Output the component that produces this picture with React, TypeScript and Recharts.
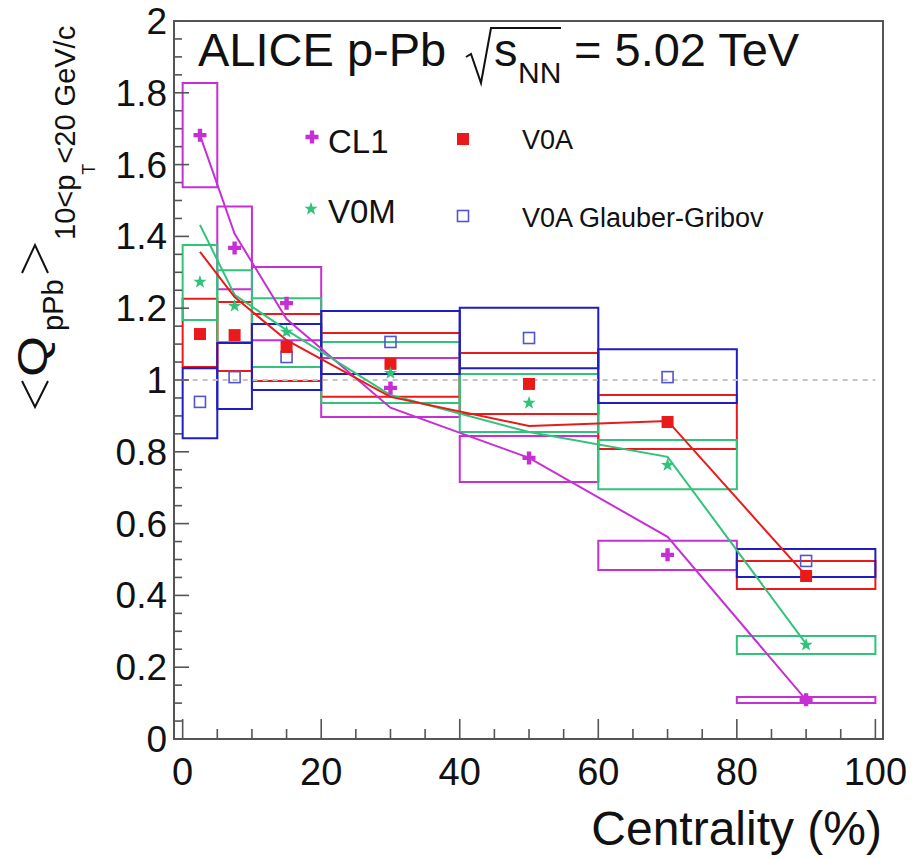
import React from 'react';
import {
  ComposedChart,
  XAxis,
  YAxis,
  Line,
  Scatter,
  ReferenceArea,
  ReferenceLine,
} from 'recharts';

// ---------- data ----------
const binCenters = [2.5, 7.5, 15, 30, 50, 70, 90];
const binLow = [0, 5, 10, 20, 40, 60, 80];
const binHigh = [5, 10, 20, 40, 60, 80, 100];

const cl1Values = [1.682, 1.368, 1.214, 0.978, 0.783, 0.513, 0.109];
const cl1SysLow = [1.537, 1.253, 1.111, 0.897, 0.716, 0.471, 0.1];
const cl1SysHigh = [1.827, 1.483, 1.315, 1.061, 0.844, 0.552, 0.117];
const cl1Model = [1.682, 1.407, 1.17, 0.923, 0.783, 0.563, 0.109];

const v0mValues = [1.273, 1.206, 1.134, 1.019, 0.936, 0.763, 0.262];
const v0mSysLow = [1.167, 1.106, 1.036, 0.936, 0.855, 0.696, 0.237];
const v0mSysHigh = [1.376, 1.306, 1.228, 1.106, 1.017, 0.833, 0.287];
const v0mModel = [1.432, 1.237, 1.139, 0.958, 0.855, 0.786, 0.265];

const v0aValues = [1.128, 1.125, 1.092, 1.045, 0.989, 0.883, 0.454];
const v0aSysLow = [1.036, 1.025, 0.997, 0.953, 0.905, 0.808, 0.418];
const v0aSysHigh = [1.226, 1.217, 1.184, 1.131, 1.075, 0.958, 0.496];
const v0aModel = [1.357, 1.231, 1.111, 0.953, 0.872, 0.886, 0.455];

const ggValues = [0.939, 1.008, 1.064, 1.106, 1.117, 1.008, 0.496];
const ggSysLow = [0.838, 0.919, 0.972, 1.017, 1.033, 0.936, 0.451];
const ggSysHigh = [1.033, 1.103, 1.156, 1.192, 1.201, 1.086, 0.529];

const xMajorTicks = [0, 20, 40, 60, 80, 100];
const xMinorTicks = [5, 10, 15, 25, 30, 35, 45, 50, 55, 65, 70, 75, 85, 90, 95];
const xTickLabels = ['0', '20', '40', '60', '80', '100'];

const yMajorTicks = [0, 0.2, 0.4, 0.6, 0.8, 1, 1.2, 1.4, 1.6, 1.8, 2];
const yTickLabels = ['0', '0.2', '0.4', '0.6', '0.8', '1', '1.2', '1.4', '1.6', '1.8', '2'];
const yMinorStep = 0.05;

const seriesNames = ['CL1', 'V0M', 'V0A', 'V0A Glauber-Gribov'];

// ---------- styles ----------
const FONT = '"Liberation Sans", Arial, Helvetica, sans-serif';
const AXIS_COL = '#555555';
const COL_CL1 = '#c62fd4';
const COL_V0M = '#2fc47a';
const COL_V0A = '#ea1a1a';
const COL_GG_BOX = '#1e1ec2';
const COL_GG_MARK = '#5454cc';

const X_DOMAIN: [number, number] = [-1.25, 101.1];
const Y_DOMAIN: [number, number] = [0, 2];

const toPoints = (vals: number[]) => binCenters.map((x, i) => ({ x, y: vals[i] }));

const allXTicks = [...xMajorTicks, ...xMinorTicks].sort((a, b) => a - b);
const allYTicks: number[] = [];
yMajorTicks.forEach((v, i) => {
  allYTicks.push(v);
  if (i < yMajorTicks.length - 1) {
    [1, 2, 3].forEach((k) => allYTicks.push(Math.round((v + k * yMinorStep) * 1000) / 1000));
  }
});

// ---------- markers ----------
const crossPath = (cx: number, cy: number, s: number, t: number) =>
  `M${cx - t},${cy - s}L${cx + t},${cy - s}L${cx + t},${cy - t}L${cx + s},${cy - t}L${cx + s},${cy + t}L${cx + t},${cy + t}L${cx + t},${cy + s}L${cx - t},${cy + s}L${cx - t},${cy + t}L${cx - s},${cy + t}L${cx - s},${cy - t}L${cx - t},${cy - t}Z`;

const starPath = (cx: number, cy: number, ro: number, ri: number) => {
  let d = '';
  for (let k = 0; k < 10; k++) {
    const r = k % 2 === 0 ? ro : ri;
    const a = -Math.PI / 2 + (k * Math.PI) / 5;
    d += (k === 0 ? 'M' : 'L') + (cx + r * Math.cos(a)).toFixed(2) + ',' + (cy + r * Math.sin(a)).toFixed(2);
  }
  return d + 'Z';
};

const CrossMarker = ({ cx, cy }: any) => <path d={crossPath(cx, cy, 6.5, 2.2)} fill={COL_CL1} />;
const StarMarker = ({ cx, cy }: any) => <path d={starPath(cx, cy, 7, 2.8)} fill={COL_V0M} />;
const FilledSquare = ({ cx, cy }: any) => (
  <rect x={cx - 6} y={cy - 6} width={12} height={12} fill={COL_V0A} />
);
const OpenSquare = ({ cx, cy }: any) => (
  <rect x={cx - 5.5} y={cy - 5.5} width={11} height={11} fill="none" stroke={COL_GG_MARK} strokeWidth={1.6} />
);

// ---------- ticks ----------
const XTick = (props: any) => {
  const { x, y, payload } = props;
  const v = payload.value;
  const idx = xMajorTicks.indexOf(v);
  const major = idx >= 0;
  return (
    <g>
      <line x1={x} x2={x} y1={y} y2={y - (major ? 20 : 10)} stroke={AXIS_COL} strokeWidth={1.6} />
      {major && (
        <text x={x} y={y + 46} textAnchor="middle" fontSize={38} fontFamily={FONT} fill="#111">
          {xTickLabels[idx]}
        </text>
      )}
    </g>
  );
};

const YTick = (props: any) => {
  const { x, y, payload } = props;
  const v = payload.value;
  const idx = yMajorTicks.findIndex((m) => Math.abs(m - v) < 1e-6);
  const major = idx >= 0;
  return (
    <g>
      <line x1={x} x2={x + (major ? 15 : 8)} y1={y} y2={y} stroke={AXIS_COL} strokeWidth={1.6} />
      {major && (
        <text x={x - 7} y={y + 13} textAnchor="end" fontSize={37} fontFamily={FONT} fill="#111">
          {yTickLabels[idx]}
        </text>
      )}
    </g>
  );
};

// ---------- overlay texts ----------
const Overlay = () => (
  <svg
    width={921}
    height={858}
    style={{ position: 'absolute', left: 0, top: 0, pointerEvents: 'none' }}
    fontFamily={FONT}
  >
    {/* title */}
    <text x={198} y={66} fontSize={47} fill="#111">ALICE p-Pb</text>
    <path d="M466,57 L471,54 L481,83 L491,28 L561,28" fill="none" stroke="#111" strokeWidth={2} />
    <text x={494} y={66} fontSize={47} fill="#111">s</text>
    <text x={518} y={83} fontSize={30} fill="#111">NN</text>
    <text x={574} y={66} fontSize={47} fill="#111">= 5.02 TeV</text>

    {/* legend */}
    <path d={crossPath(312, 137, 6.5, 2.2)} fill={COL_CL1} />
    <text x={328} y={153} fontSize={33} fill="#111">{seriesNames[0]}</text>
    <path d={starPath(311, 209, 7, 2.8)} fill={COL_V0M} />
    <text x={328} y={223} fontSize={33} fill="#111">{seriesNames[1]}</text>
    <rect x={457} y={133} width={12} height={12} fill={COL_V0A} />
    <text x={522} y={149} fontSize={27} fill="#111">{seriesNames[2]}</text>
    <rect x={457.5} y={210.5} width={11} height={11} fill="none" stroke={COL_GG_MARK} strokeWidth={1.6} />
    <text x={522} y={227} fontSize={27} fill="#111">{seriesNames[3]}</text>

    {/* y axis label (rotated) */}
    <path d="M22,381 L35,407 L48,381" fill="none" stroke="#111" strokeWidth={2} />
    <text x={-377} y={47} transform="rotate(-90)" fontSize={42} textLength={41} lengthAdjust="spacingAndGlyphs" fill="#111">Q</text>
    <text x={-331} y={63} transform="rotate(-90)" fontSize={29} fill="#111">pPb</text>
    <path d="M22,273 L35,245 L48,273" fill="none" stroke="#111" strokeWidth={2} />
    <text x={-240} y={75} transform="rotate(-90)" fontSize={29} fill="#111">
      10&lt;p
      <tspan fontSize={18} dy={20}>T</tspan>
      <tspan dy={-20}>&lt;20 GeV/c</tspan>
    </text>

    {/* x axis label */}
    <text x={882} y={845} textAnchor="end" fontSize={48} fill="#111">Centrality (%)</text>
  </svg>
);

// ---------- chart ----------
const boxSeries = [
  { low: cl1SysLow, high: cl1SysHigh, color: COL_CL1 },
  { low: v0aSysLow, high: v0aSysHigh, color: COL_V0A },
  { low: v0mSysLow, high: v0mSysHigh, color: COL_V0M },
  { low: ggSysLow, high: ggSysHigh, color: COL_GG_BOX },
];

export default function App() {
  return (
    <div style={{ position: 'absolute', left: 0, top: 0, width: 921, height: 858, background: '#fff' }}>
      <ComposedChart width={921} height={858} margin={{ top: 21, right: 38, bottom: 118, left: 173 }}>
        <XAxis
          type="number"
          dataKey="x"
          domain={X_DOMAIN}
          allowDataOverflow
          ticks={allXTicks}
          interval={0}
          tick={<XTick />}
          tickLine={false}
          axisLine={false}
          tickSize={0}
          tickMargin={0}
          height={1}
        />
        <YAxis
          type="number"
          dataKey="y"
          domain={Y_DOMAIN}
          allowDataOverflow
          ticks={allYTicks}
          interval={0}
          tick={<YTick />}
          tickLine={false}
          axisLine={false}
          tickSize={0}
          tickMargin={0}
          width={1}
        />

        <ReferenceLine
          segment={[{ x: 0, y: 1 }, { x: 100, y: 1 }]}
          stroke="#c4c4c4"
          strokeWidth={2}
          strokeDasharray="5 5"
        />

        {boxSeries.map((s, si) =>
          binLow.map((lo, i) => (
            <ReferenceArea
              key={`box-${si}-${i}`}
              x1={lo}
              x2={binHigh[i]}
              y1={s.low[i]}
              y2={s.high[i]}
              fill="none"
              fillOpacity={0}
              stroke={s.color}
              strokeWidth={2}
              strokeOpacity={1}
              ifOverflow="visible"
            />
          ))
        )}

        <Line data={toPoints(cl1Model)} dataKey="y" type="linear" stroke={COL_CL1} strokeWidth={2} dot={false} activeDot={false} isAnimationActive={false} />
        <Line data={toPoints(v0mModel)} dataKey="y" type="linear" stroke={COL_V0M} strokeWidth={2} dot={false} activeDot={false} isAnimationActive={false} />
        <Line data={toPoints(v0aModel)} dataKey="y" type="linear" stroke={COL_V0A} strokeWidth={2} dot={false} activeDot={false} isAnimationActive={false} />

        <Scatter data={toPoints(ggValues)} dataKey="y" shape={(p: any) => <OpenSquare cx={p.cx} cy={p.cy} />} isAnimationActive={false} />
        <Scatter data={toPoints(v0aValues)} dataKey="y" shape={(p: any) => <FilledSquare cx={p.cx} cy={p.cy} />} isAnimationActive={false} />
        <Scatter data={toPoints(v0mValues)} dataKey="y" shape={(p: any) => <StarMarker cx={p.cx} cy={p.cy} />} isAnimationActive={false} />
        <Scatter data={toPoints(cl1Values)} dataKey="y" shape={(p: any) => <CrossMarker cx={p.cx} cy={p.cy} />} isAnimationActive={false} />

        <ReferenceArea
          x1={X_DOMAIN[0]}
          x2={X_DOMAIN[1]}
          y1={Y_DOMAIN[0]}
          y2={Y_DOMAIN[1]}
          fill="none"
          fillOpacity={0}
          stroke={AXIS_COL}
          strokeWidth={2}
          strokeOpacity={1}
          ifOverflow="visible"
        />
      </ComposedChart>
      <Overlay />
    </div>
  );
}
